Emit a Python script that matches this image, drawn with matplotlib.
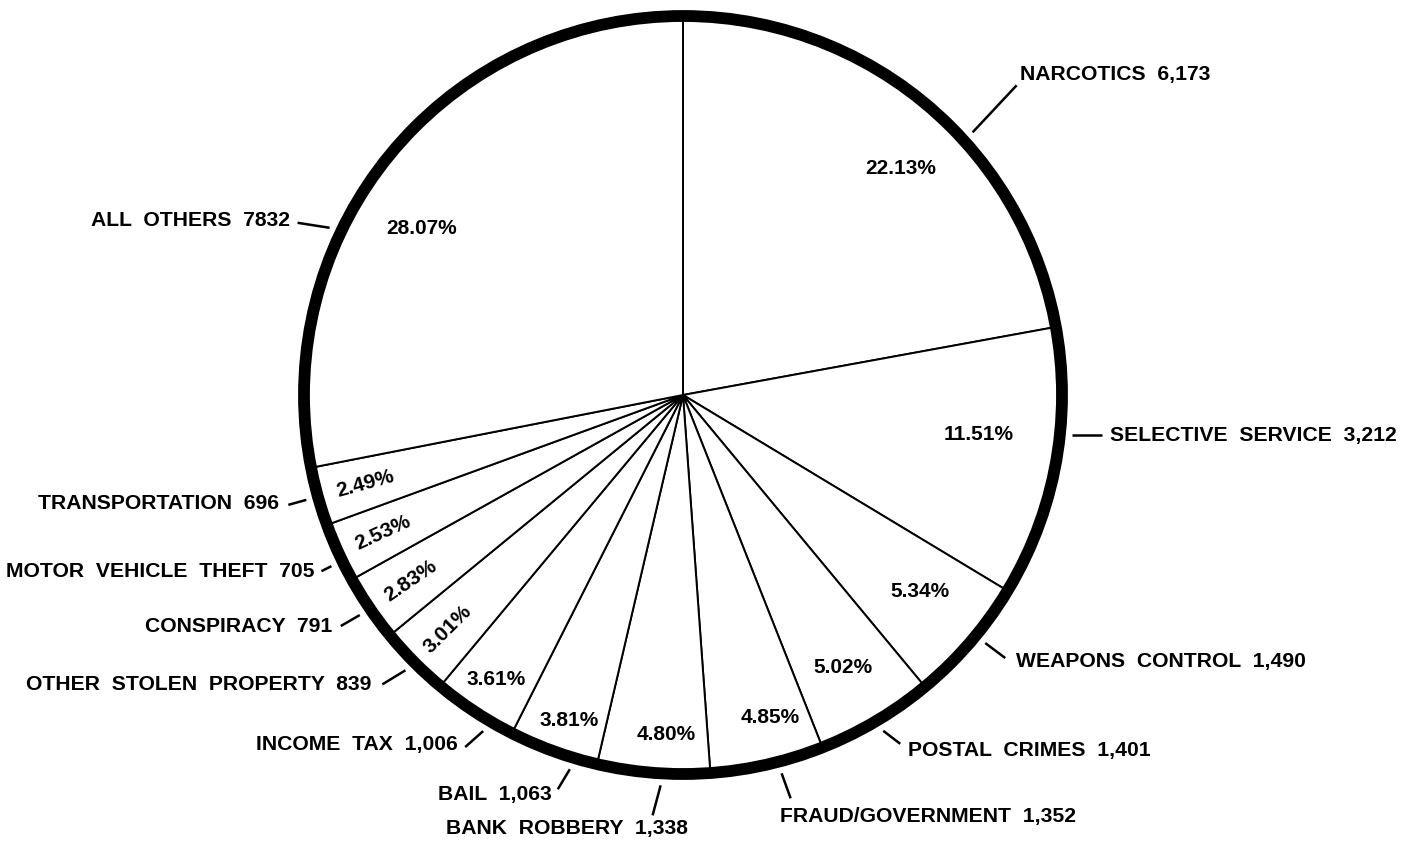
import numpy as np
import matplotlib.pyplot as plt
from matplotlib.patches import Circle

plt.rcParams['font.family'] = ['Liberation Sans', 'DejaVu Sans']

# data
categories = ['NARCOTICS', 'SELECTIVE SERVICE', 'WEAPONS CONTROL', 'POSTAL CRIMES',
              'FRAUD/GOVERNMENT', 'BANK ROBBERY', 'BAIL', 'INCOME TAX',
              'OTHER STOLEN PROPERTY', 'CONSPIRACY', 'MOTOR VEHICLE THEFT',
              'TRANSPORTATION', 'ALL OTHERS']
counts = [6173, 3212, 1490, 1401, 1352, 1338, 1063, 1006, 839, 791, 705, 696, 7832]
count_text = ['6,173', '3,212', '1,490', '1,401', '1,352', '1,338', '1,063', '1,006',
              '839', '791', '705', '696', '7832']
percents = ['22.13%', '11.51%', '5.34%', '5.02%', '4.85%', '4.80%', '3.81%', '3.61%',
            '3.01%', '2.83%', '2.53%', '2.49%', '28.07%']

# layout (pixels, y measured down from the top)
W, H = 1421, 846
cx, cy, R = 683, 395, 379

# where the leader line leaves the wedge (fraction of the wedge, clockwise)
lead_frac = [0.60, 0.39, 0.43, 0.49, 0.40, 0.43, 0.27, 0.30, 0.5, 0.5, 0.35, 0.5, 0.36]
# leader vector, then offset from its end to the text anchor
lead_vec = [(44, -47), (30, 0), (20, 15), (17, 13), (9, 25), (-8, 30), (-12, 20),
            (-18, 16), (-23, 14), (-19, 11), (-10, 5), (-18, 5), (-32, -5)]
text_off = [(3, -11), (8, 1), (11, 3), (8, 7), (-11, 18), (35, 13), (-6, 5),
            (-7, -3), (-11, 0), (-9, 0), (-7, 0), (-9, -1), (-8, -2)]
text_ha = ['left'] * 5 + ['right'] * 8
# percentage labels: fraction of the wedge, distance from centre, radial text?
pct_frac = [0.55, 0.435, 0.447, 0.51, 0.37, 0.40, 0.45, 0.5, 0.5, 0.5, 0.5, 0.5, 0.43]
pct_r = [314, 298, 308, 316, 334, 340, 345, 340, 332, 330, 330, 330, 310]
pct_radial = [False] * 8 + [True] * 4 + [False]

total = float(sum(counts))
span = 360.0 * np.array(counts) / total
start = 90.0 - np.concatenate([[0], np.cumsum(span)[:-1]])


def polar(ang, r):
    a = np.radians(ang)
    return cx + r * np.cos(a), cy - r * np.sin(a)


fig = plt.figure(figsize=(W / 100, H / 100), dpi=100)
ax = fig.add_axes([0, 0, 1, 1])

ax.pie(counts, startangle=90, counterclock=False, center=(cx, H - cy), radius=R,
       colors=['white'] * len(counts),
       wedgeprops=dict(edgecolor='black', linewidth=1.4))
ax.add_patch(Circle((cx, H - cy), R, fill=False, edgecolor='black', linewidth=8.5))

for i, cat in enumerate(categories):
    ang = start[i] - lead_frac[i] * span[i]
    x0, y0 = polar(ang, R + 12)
    x1, y1 = x0 + lead_vec[i][0], y0 + lead_vec[i][1]
    ax.plot([x0, x1], [H - y0, H - y1], color='black', linewidth=1.8,
            solid_capstyle='butt')
    tx, ty = x1 + text_off[i][0], y1 + text_off[i][1]
    txt = '  '.join(cat.split(' ')) + '  ' + count_text[i]
    ax.text(tx, H - ty, txt, ha=text_ha[i], va='center', fontsize=15.2,
            fontweight='bold')

    pang = start[i] - pct_frac[i] * span[i]
    px, py = polar(pang, pct_r[i])
    rot = pang + 180 if pct_radial[i] else 0
    ax.text(px, H - py, percents[i], ha='center', va='center', rotation=rot,
            rotation_mode='anchor', fontsize=15, fontweight='bold')

ax.set_xlim(0, W)
ax.set_ylim(0, H)
ax.set_aspect('equal')
ax.axis('off')

fig.savefig('out.png', dpi=100, facecolor='white')
